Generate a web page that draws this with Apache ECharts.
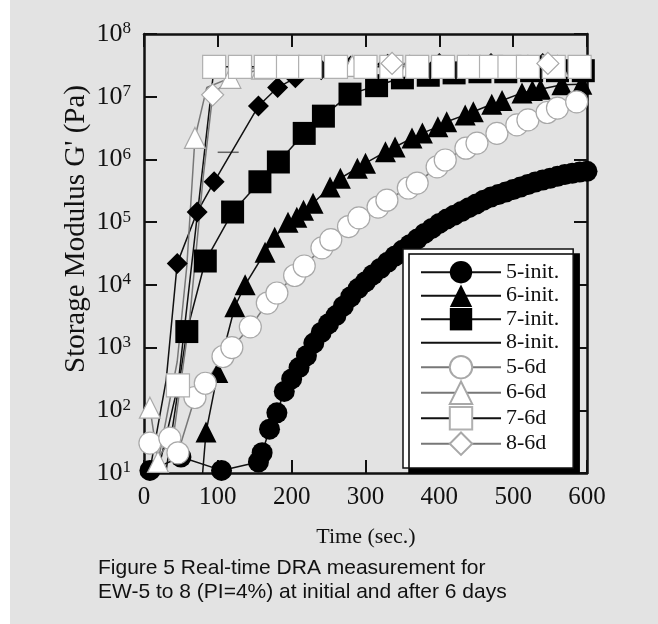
<!DOCTYPE html>
<html>
<head>
<meta charset="utf-8">
<script src="https://cdn.jsdelivr.net/npm/echarts@6/dist/echarts.min.js"></script>
<style>
html,body{margin:0;padding:0;background:#e3e3e3;}
#c{width:658px;height:624px;}
</style>
</head>
<body>
<div id="c"></div>
<script>
// ---- data (time in s, G' in Pa) ----
const seriesNames = ['5-init.','6-init.','7-init.','8-init.','5-6d','6-6d','7-6d','8-6d'];
const xTicks = [0,100,200,300,400,500,600];
const yTickExponents = [1,2,3,4,5,6,7,8];

const t5init = [8,50,105,155,160,170,180,190,200,210,220,230,240,250,260,270,280,290,300,310,320,330,340,350,360,370,380,390,400,410,420,430,440,450,460,470,480,490,500,510,520,530,540,550,560,570,580,590,600];
const g5init = [11,18,11,15,21,50,91,200,316,480,740,1180,1740,2400,3240,4570,6460,8710,1.12e4,1.45e4,1.82e4,2.29e4,2.88e4,3.55e4,4.37e4,5.37e4,6.61e4,7.94e4,9.55e4,1.12e5,1.29e5,1.48e5,1.70e5,1.95e5,2.24e5,2.51e5,2.75e5,3.02e5,3.31e5,3.63e5,3.98e5,4.37e5,4.68e5,5.01e5,5.37e5,5.75e5,6.03e5,6.31e5,6.46e5];
const noMark5init = [];

const t6init = [78,84,100,123,137,164,177,195,207,216,229,252,266,289,300,327,340,363,377,398,410,435,446,471,485,512,526,537,566,593];
const g6init = [6.3,45,400,4470,1.0e4,3.31e4,5.75e4,1.0e5,1.2e5,1.55e5,2.0e5,3.63e5,5.01e5,7.24e5,8.71e5,1.32e6,1.58e6,2.19e6,2.63e6,3.31e6,3.98e6,5.13e6,5.75e6,7.59e6,8.71e6,1.15e7,1.26e7,1.32e7,1.55e7,1.58e7];
const noMark6init = [0];

const t7init = [30,58,83,120,157,182,217,243,279,315,350,385,420,455,490,525,560,595];
const g7init = [11,1800,2.4e4,1.45e5,4.4e5,9.1e5,2.6e6,4.9e6,1.1e7,1.5e7,2.0e7,2.2e7,2.4e7,2.5e7,2.5e7,2.6e7,2.6e7,2.6e7];
const noMark7init = [0];

const t8init = [8,30,45,72,95,155,181,205,240,280,330,400,470,540];
const g8init = [11,300,2.2e4,1.45e5,4.4e5,7.1e6,1.4e7,2.0e7,2.7e7,3.1e7,3.3e7,3.4e7,3.4e7,3.4e7];
const noMark8init = [0,1];

const t56d = [8,35,46,69,83,107,119,144,167,180,204,217,241,253,277,291,317,329,358,370,397,408,436,451,478,505,520,546,560,586];
const g56d = [30,36,21,160,270,720,1000,2140,5130,7410,1.41e4,2.0e4,3.89e4,5.25e4,8.5e4,1.17e5,1.74e5,2.24e5,3.5e5,4.2e5,7.6e5,9.8e5,1.51e6,1.82e6,2.6e6,3.55e6,4.27e6,5.6e6,6.6e6,8.3e6];
const noMark56d = [];

const t66d = [8,19,45,58,69,85,117,160,200,282,360,440,520,560];
const g66d = [110,15,600,2.0e4,2.2e6,1.4e7,2.0e7,2.8e7,3.0e7,3.1e7,3.1e7,3.1e7,3.1e7,3.1e7];
const noMark66d = [2,3,5];

const t76d = [20,46,95,130,165,195,225,260,300,335,370,405,440,470,495,520,555,590];
const g76d = [12,250,3.0e7,3.0e7,3.0e7,3.0e7,3.0e7,3.0e7,3.0e7,3.0e7,3.0e7,3.0e7,3.0e7,3.0e7,3.0e7,3.0e7,3.0e7,3.0e7];
const noMark76d = [0];

const t86d = [10,40,62,80,93,130,336,547];
const g86d = [12,40,3000,5e5,1.07e7,2.8e7,3.4e7,3.4e7];
const noMark86d = [0,1,2,3,5];

const tDash = [114,225,442];
const gDash = [1.3e6,3.5e7,3.5e7];

// ---- chart ----
const SERIF = 'Liberation Serif';
const pairs = (t,g,hide) => t.map((v,i)=> (hide && hide.indexOf(i) >= 0) ? {value:[v,g[i]], symbol:'none'} : [v,g[i]]);

function mk(name, t, g, hide, symbol, size, fill, border, lineColor, extra) {
  return Object.assign({
    name: name, type: 'line', data: pairs(t,g,hide),
    symbol: symbol, symbolSize: size, showSymbol: true,
    clip: false, animation: false,
    lineStyle: {color: lineColor, width: 1.5},
    itemStyle: {color: fill, borderColor: border, borderWidth: border === fill ? 0 : 1.2, opacity: 1},
    emphasis: {disabled: true}
  }, extra || {});
}

const chart = echarts.init(document.getElementById('c'), null, {renderer: 'canvas'});
const axisCommon = {
  axisLine: {show: true, onZero: false, lineStyle: {color: '#111', width: 2.5}},
  axisTick: {show: true, inside: true, length: 13, lineStyle: {color: '#111', width: 2}},
  splitLine: {show: false},
  minorTick: {show: false}
};

const option = {
  backgroundColor: '#e3e3e3',
  animation: false,
  grid: {left: 144, top: 34, width: 443, height: 439},
  xAxis: [
    Object.assign({type: 'value', min: 0, max: 600, interval: 100, position: 'bottom',
      axisLabel: {fontFamily: SERIF, fontSize: 25, color: '#111', margin: 12,
        formatter: v => xTicks.indexOf(v) >= 0 ? String(v) : ''}}, axisCommon),
    Object.assign({type: 'value', min: 0, max: 600, interval: 100, position: 'top',
      axisLabel: {show: false}}, axisCommon)
  ],
  yAxis: [
    Object.assign({type: 'log', logBase: 10, min: 10, max: 1e8, splitNumber: 7, position: 'left',
      axisLabel: {margin: 13, formatter: v => {
          const e = Math.round(Math.log10(v));
          return yTickExponents.indexOf(e) >= 0 ? '{b|10}{s|' + e + '}' : '';
        },
        rich: {b: {fontFamily: SERIF, fontSize: 26, color: '#111', lineHeight: 27},
               s: {fontFamily: SERIF, fontSize: 17, color: '#111', verticalAlign: 'top', lineHeight: 27}}}}, axisCommon),
    Object.assign({type: 'log', logBase: 10, min: 10, max: 1e8, splitNumber: 7, position: 'right',
      axisLabel: {show: false}}, axisCommon)
  ],
  legend: {
    orient: 'vertical', left: 403, top: 249,
    padding: [12, 14, 12, 17],
    itemWidth: 80, itemHeight: 28, itemGap: 1.1,
    backgroundColor: '#fff', borderColor: '#111', borderWidth: 1.5,
    shadowColor: '#000', shadowOffsetX: 6, shadowOffsetY: 5, shadowBlur: 0,
    selectedMode: false,
    textStyle: {fontFamily: SERIF, fontSize: 22, color: '#111'},
    data: [
      {name: '5-init.'}, {name: '6-init.'}, {name: '7-init.'},
      {name: '8-init.', itemStyle: {opacity: 0}},
      {name: '5-6d'}, {name: '6-6d'}, {name: '7-6d'}, {name: '8-6d'}
    ]
  },
  series: [
    mk(seriesNames[0], t5init, g5init, noMark5init, 'circle', 21, '#000', '#000', '#111'),
    mk(seriesNames[1], t6init, g6init, noMark6init, 'triangle', 21, '#000', '#000', '#111', {clip: true}),
    mk(seriesNames[2], t7init, g7init, noMark7init, 'rect', 23, '#000', '#000', '#111'),
    mk(seriesNames[3], t8init, g8init, noMark8init, 'diamond', 21, '#000', '#000', '#111'),
    mk(seriesNames[4], t56d, g56d, noMark56d, 'circle', 22, '#fff', '#a8a8a8', '#777'),
    mk(seriesNames[5], t66d, g66d, noMark66d, 'triangle', 21, '#fff', '#a8a8a8', '#777'),
    mk(seriesNames[6], t76d, g76d, noMark76d, 'rect', 23, '#fff', '#b0b0b0', '#111'),
    mk(seriesNames[7], t86d, g86d, noMark86d, 'diamond', 22, '#fff', '#a8a8a8', '#777'),
    {name: 'dash', type: 'scatter', data: pairs(tDash, gDash), symbol: 'rect', symbolSize: [21, 1.5],
     itemStyle: {color: '#444'}, silent: true, animation: false}
  ],
  graphic: [
    {type: 'rect', z: -10, shape: {x: 0, y: 0, width: 10, height: 624}, style: {fill: '#fff'}},
    {type: 'text', x: 76, y: 229, rotation: Math.PI / 2,
     style: {text: "Storage Modulus G' (Pa)", font: '29px "Liberation Serif"', fill: '#111', align: 'center', verticalAlign: 'middle'}},
    {type: 'text', x: 366, y: 537,
     style: {text: 'Time (sec.)', font: '22px "Liberation Serif"', fill: '#111', align: 'center', verticalAlign: 'middle'}},
    {type: 'text', x: 98, y: 568,
     style: {text: 'Figure 5 Real-time DRA measurement for', font: '21px "Liberation Sans"', fill: '#111', align: 'left', verticalAlign: 'middle'}},
    {type: 'text', x: 98, y: 592,
     style: {text: 'EW-5 to 8 (PI=4%) at initial and after 6 days', font: '21px "Liberation Sans"', fill: '#111', align: 'left', verticalAlign: 'middle'}}
  ]
};
chart.setOption(option);
</script>
</body>
</html>
